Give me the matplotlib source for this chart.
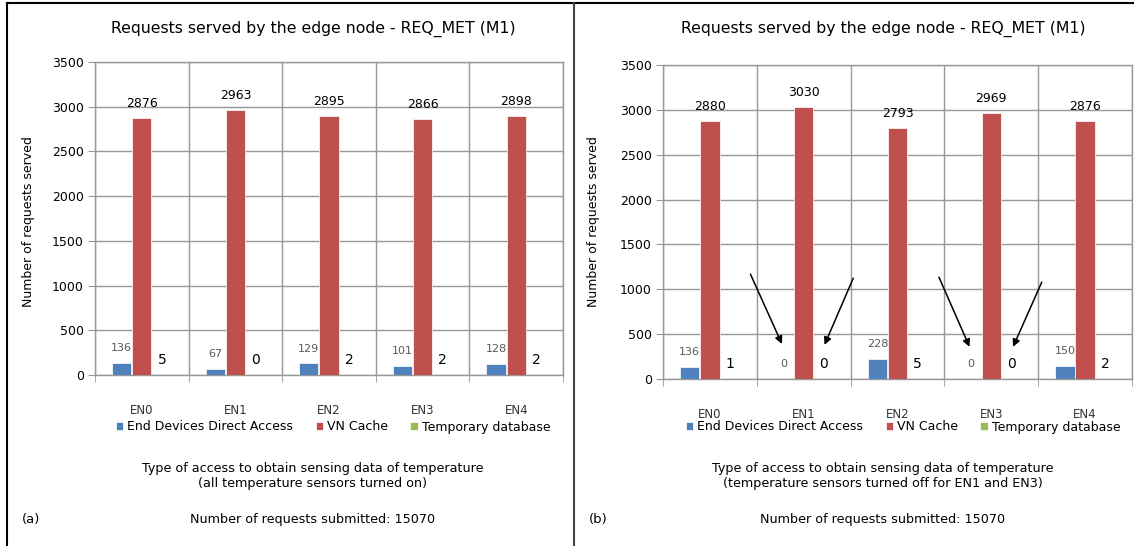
import matplotlib
matplotlib.use('Agg')
import matplotlib.pyplot as plt
from matplotlib.lines import Line2D
import numpy as np

# data
nodes = ['EN0', 'EN1', 'EN2', 'EN3', 'EN4']
series_names = ['End Devices Direct Access', 'VN Cache', 'Temporary database']

direct_a = [136, 67, 129, 101, 128]
cache_a = [2876, 2963, 2895, 2866, 2898]
tempdb_a = [5, 0, 2, 2, 2]

direct_b = [136, 0, 228, 0, 150]
cache_b = [2880, 3030, 2793, 2969, 2876]
tempdb_b = [1, 0, 5, 0, 2]

yticks = [0, 500, 1000, 1500, 2000, 2500, 3000, 3500]

title = 'Requests served by the edge node - REQ_MET (M1)'
ylabel = 'Number of requests served'
sub_a = 'Type of access to obtain sensing data of temperature\n(all temperature sensors turned on)'
sub_b = 'Type of access to obtain sensing data of temperature\n(temperature sensors turned off for EN1 and EN3)'
submitted = 'Number of requests submitted: 15070'

# arrows in panel (b): (x_start, y_start, x_end, y_end) in data units
arrows_b = [(0.42, 1197, 0.78, 363), (1.54, 1152, 1.21, 352),
            (2.43, 1163, 2.78, 330), (3.55, 1108, 3.22, 330)]

colors = ['#4F81BD', '#C0504D', '#9BBB59']
grid_c = '#989898'

W, H = 1134, 546
fig = plt.figure(figsize=(W / 100, H / 100), dpi=100)


def px(x, y):
    return x / W, 1 - y / H


def panel(rect, series, cx, letter, letter_x, ylab_x, sub, arrows=None):
    ax = fig.add_axes(rect)
    x = np.arange(len(nodes))
    off = 0.215
    for i, (vals, c) in enumerate(zip(series, colors)):
        xs = x + (i - 1) * off
        ax.bar(xs, vals, width=0.205, color=c, edgecolor='white', linewidth=0.5,
               label=series_names[i], zorder=3)
        for xv, v in zip(xs, vals):
            if i == 0:
                kw = dict(fontsize=8, color='#595959')
            elif i == 1:
                kw = dict(fontsize=9, color='black')
            else:
                kw = dict(fontsize=10, color='black')
            ax.annotate(str(v), (xv, v), xytext=(0, 10.5), textcoords='offset points',
                        ha='center', va='center', **kw)
    ax.set_xlim(-0.5, len(nodes) - 0.5)
    ax.set_ylim(0, 3500)
    ax.set_yticks(yticks)
    ax.set_yticklabels([str(t) for t in yticks], fontsize=9)
    ax.set_xticks(x)
    ax.set_xticklabels(nodes, fontsize=8.5, color='#333333')
    ax.set_xticks(np.arange(-0.5, len(nodes)), minor=True)
    ax.tick_params(axis='x', which='major', length=0, pad=21)
    ax.tick_params(axis='x', which='minor', length=5, color=grid_c, direction='out')
    ax.tick_params(axis='y', length=5, color=grid_c, direction='out', pad=3)
    ax.grid(True, axis='y', color=grid_c, linewidth=1, zorder=0)
    ax.grid(True, axis='x', which='minor', color=grid_c, linewidth=1, zorder=0)
    for s in ax.spines.values():
        s.set_color(grid_c)
        s.set_linewidth(1)
    if arrows:
        for x0, y0, x1, y1 in arrows:
            ax.annotate('', xy=(x1, y1), xytext=(x0, y0),
                        arrowprops=dict(arrowstyle='-|>', color='black', lw=1.1,
                                        mutation_scale=11))

    fig.text(*px(cx, 29), title, ha='center', va='center', fontsize=11.3)
    fig.text(*px(ylab_x, 222), ylabel, ha='center', va='center', rotation=90, fontsize=9)
    fig.legend(*ax.get_legend_handles_labels(), loc='center', bbox_to_anchor=px(cx + 20, 427),
               ncol=3, frameon=False, fontsize=9, handlelength=0.6, handleheight=0.6,
               handletextpad=0.3, columnspacing=1.8)
    fig.text(*px(cx, 476), sub, ha='center', va='center', fontsize=9.2, linespacing=1.25)
    fig.text(*px(cx, 520), submitted, ha='center', va='center', fontsize=9.2)
    fig.text(*px(letter_x, 520), letter, ha='left', va='center', fontsize=9.5)
    return ax


panel([95 / W, 1 - 375 / H, (563 - 95) / W, 313 / H],
      [direct_a, cache_a, tempdb_a], 313, '(a)', 22, 29, sub_a)
panel([663 / W, 1 - 379 / H, (1132 - 663) / W, 314 / H],
      [direct_b, cache_b, tempdb_b], 883, '(b)', 589, 594, sub_b, arrows_b)

# frame lines
fig.add_artist(Line2D([7 / W, 1], [1 - 3 / H, 1 - 3 / H], color='black', lw=1.5))
fig.add_artist(Line2D([7 / W, 7 / W], [0, 1 - 3 / H], color='black', lw=1.5))
fig.add_artist(Line2D([574 / W, 574 / W], [0, 1 - 3 / H], color='#444444', lw=1.5))

fig.savefig('out.png', dpi=100)
